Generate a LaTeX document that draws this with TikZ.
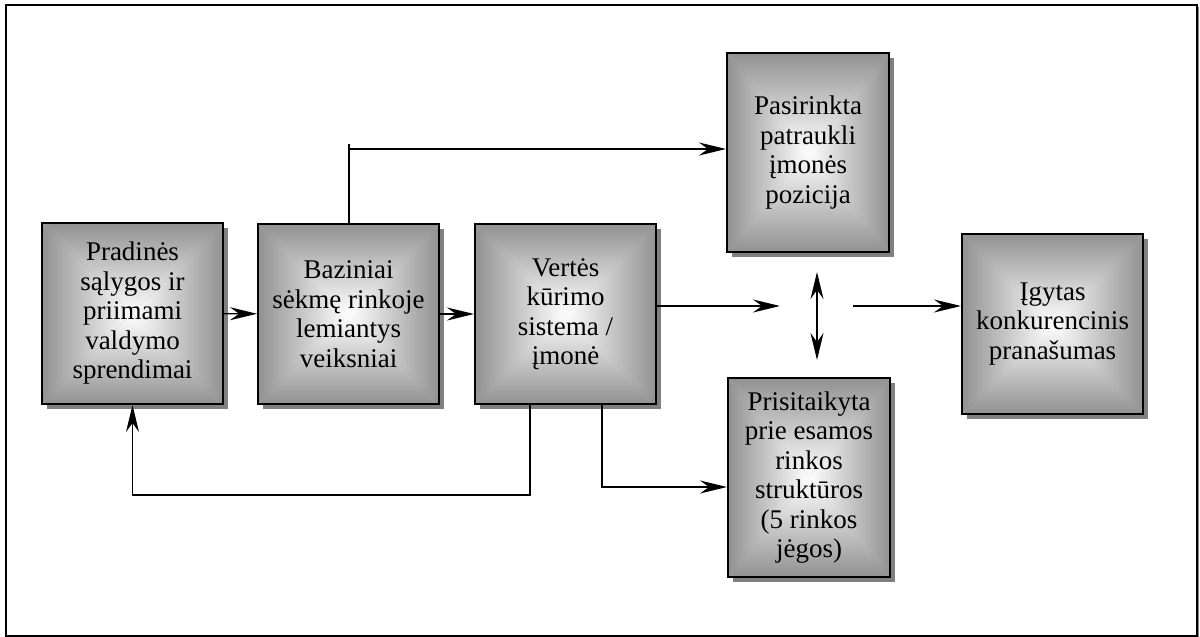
\documentclass[tikz,border=0pt]{standalone}
\usepackage{fontspec}
\setmainfont{Liberation Serif}
\usetikzlibrary{arrows.meta,shadows}
\definecolor{edgegray}{gray}{0.57}
\definecolor{shadowgray}{gray}{0.5}
\tikzset{
  bevel/.style={
    draw=black, line width=2pt, rectangle, inner sep=0pt, align=center,
    font=\fontsize{27}{29.5}\selectfont,
    drop shadow={shadow xshift=5pt, shadow yshift=-5pt, fill=shadowgray, opacity=1},
    path picture={
      \coordinate (pnw) at (path picture bounding box.north west);
      \coordinate (pne) at (path picture bounding box.north east);
      \coordinate (psw) at (path picture bounding box.south west);
      \coordinate (pse) at (path picture bounding box.south east);
      \coordinate (pc) at (path picture bounding box.center);
      \shade[top color=edgegray, middle color=black!16, bottom color=white] (pnw) -- (pne) -- (pc) -- cycle;
      \shade[bottom color=edgegray, middle color=black!16, top color=white] (psw) -- (pse) -- (pc) -- cycle;
      \shade[left color=edgegray, middle color=black!16, right color=white] (pnw) -- (psw) -- (pc) -- cycle;
      \shade[right color=edgegray, middle color=black!16, left color=white] (pne) -- (pse) -- (pc) -- cycle;
    }
  },
  conn/.style={line width=1.4pt, line join=miter},
  arr/.style={conn, arrows={-Stealth[length=27pt, width=13pt, inset=9pt]}},
  darr/.style={conn, arrows={Stealth[length=27pt, width=13pt, inset=9pt]-Stealth[length=27pt, width=13pt, inset=9pt]}}
}
\begin{document}
\begin{tikzpicture}[x=1pt, y=-1pt]
  \useasboundingbox (0,0) rectangle (1200,637);
  % outer frame
  \draw[shadowgray, line width=1pt] (1198.5,7) -- (1198.5,637);
  \draw[line width=1.6pt] (6,5) rectangle (1197,636);

  % blocks
  \node[bevel, minimum width=181pt, minimum height=181pt] (B1) at (132.5,313.5)
    {Pradinės\\sąlygos ir\\priimami\\valdymo\\sprendimai};
  \node[bevel, minimum width=181pt, minimum height=180pt] (B2) at (348.5,314)
    {Baziniai\\sėkmę rinkoje\\lemiantys\\veiksniai};
  \node[bevel, minimum width=181pt, minimum height=180pt] (B3) at (565.5,314)
    {Vertės\\kūrimo\\sistema /\\įmonė};
  \node[bevel, minimum width=162pt, minimum height=199pt] (B4) at (808,152.5)
    {Pasirinkta\\patraukli\\įmonės\\pozicija};
  \node[bevel, minimum width=162pt, minimum height=199pt] (B5) at (809,477.5)
    {Prisitaikyta\\prie esamos\\rinkos\\struktūros\\(5 rinkos\\jėgos)};
  \node[bevel, minimum width=181pt, minimum height=180pt] (B6) at (1052.5,324)
    {Įgytas\\konkurencinis\\pranašumas};

  % junction points
  \coordinate (t0) at (349,144);
  \coordinate (t1) at (349,149);
  \coordinate (m1) at (780,306);
  \coordinate (m2) at (853,306);
  \coordinate (d1) at (817,272);
  \coordinate (d2) at (817,360);
  \coordinate (f1) at (530,495);
  \coordinate (g1) at (602,487);

  % connectors
  \draw[arr] (B1) -- (B2);
  \draw[arr] (B2) -- (B3);
  \draw[conn] (B2.north -| t0) -- (t0);
  \draw[arr] (t1) -- (t1 -| B4.west);
  \draw[arr] (B3.east |- m1) -- (m1);
  \draw[arr] (m2) -- (m2 -| B6.west);
  \draw[darr] (d1) -- (d2);
  \draw[arr] (B3.south -| f1) -- (f1) -| (B1.south);
  \draw[arr] (B3.south -| g1) -- (g1) -- (g1 -| B5.west);
\end{tikzpicture}
\end{document}
